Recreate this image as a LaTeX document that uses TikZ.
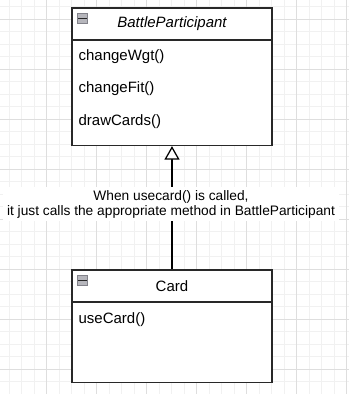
\documentclass[tikz,border=0pt]{standalone}
\usepackage{fontspec}
\setmainfont{Liberation Sans}
\usetikzlibrary{arrows.meta,positioning}
\definecolor{umlline}{RGB}{40,40,40}
\definecolor{gridminor}{RGB}{241,241,241}
\definecolor{gridmajor}{RGB}{222,222,222}
\definecolor{iconfill}{RGB}{182,182,188}
\definecolor{iconline}{RGB}{130,130,138}
\tikzset{
  cls/.style  ={draw=umlline, line width=1.25pt, fill=white, minimum width=200pt, inner sep=0pt},
  sep/.style  ={draw=umlline, line width=1.25pt},
  hdr/.style  ={font=\fontsize{15}{18}\selectfont, inner sep=0pt},
  mth/.style  ={font=\fontsize{15}{18}\selectfont, inner sep=0pt, anchor=west},
  icon/.style ={draw=iconline, fill=iconfill, line width=0.8pt, minimum size=10.5pt, inner sep=0pt},
  lbl/.style  ={font=\fontsize{13.75}{15}\selectfont, fill=white, align=center, inner xsep=4pt, inner ysep=3pt},
  inh/.style  ={draw=black, line width=1.25pt, -{Triangle[length=13.5pt,width=15pt,fill=white]}},
}
\begin{document}
\begin{tikzpicture}[x=1pt,y=-1pt]
  \useasboundingbox (0,0) rectangle (349,394);
  % background grid
  \foreach \gx in {9,21.5,...,349} \draw[gridminor,line width=0.8pt] (\gx,0) -- (\gx,394);
  \foreach \gy in {6.8,19.3,...,394} \draw[gridminor,line width=0.8pt] (0,\gy) -- (349,\gy);
  \foreach \gx in {46.5,96.5,...,349} \draw[gridmajor,line width=0.8pt] (\gx,0) -- (\gx,394);
  \foreach \gy in {19.3,69.3,...,394} \draw[gridmajor,line width=0.8pt] (0,\gy) -- (349,\gy);

  % class BattleParticipant
  \node[cls, minimum height=137.5pt] (bp) at (172,76.75) {};
  \draw[sep] ([yshift=-32.5pt]bp.north west) -- ([yshift=-32.5pt]bp.north east);
  \node[icon] (bpicon) at ([xshift=11pt,yshift=-11pt]bp.north west) {};
  \draw[umlline,line width=1.6pt] ([xshift=1.5pt]bpicon.west) -- ([xshift=-1.5pt]bpicon.east);
  \node[hdr,font=\fontsize{15}{18}\selectfont\itshape] (bpname) at ([yshift=-16.5pt]bp.north) {BattleParticipant};
  \node[mth] (wgt) at ([xshift=7pt,yshift=-49pt]bp.north west) {changeWgt()};
  \node[mth] (fit) at ([xshift=7pt,yshift=-81.5pt]bp.north west) {changeFit()};
  \node[mth] (draw) at ([xshift=7pt,yshift=-114pt]bp.north west) {drawCards()};

  % class Card
  \node[cls, minimum height=112.5pt] (card) at (172,326.25) {};
  \draw[sep] ([yshift=-32.5pt]card.north west) -- ([yshift=-32.5pt]card.north east);
  \node[icon] (cardicon) at ([xshift=11pt,yshift=-11pt]card.north west) {};
  \draw[umlline,line width=1.6pt] ([xshift=1.5pt]cardicon.west) -- ([xshift=-1.5pt]cardicon.east);
  \node[hdr] (cardname) at ([yshift=-16.5pt]card.north) {Card};
  \node[mth] (use) at ([xshift=7pt,yshift=-50pt]card.north west) {useCard()};

  % generalisation
  \draw[inh] (card.north) -- (bp.south);
  \node[lbl] (note) at (171,204) {When usecard() is called,\\it just calls the appropriate method in BattleParticipant};
\end{tikzpicture}
\end{document}
